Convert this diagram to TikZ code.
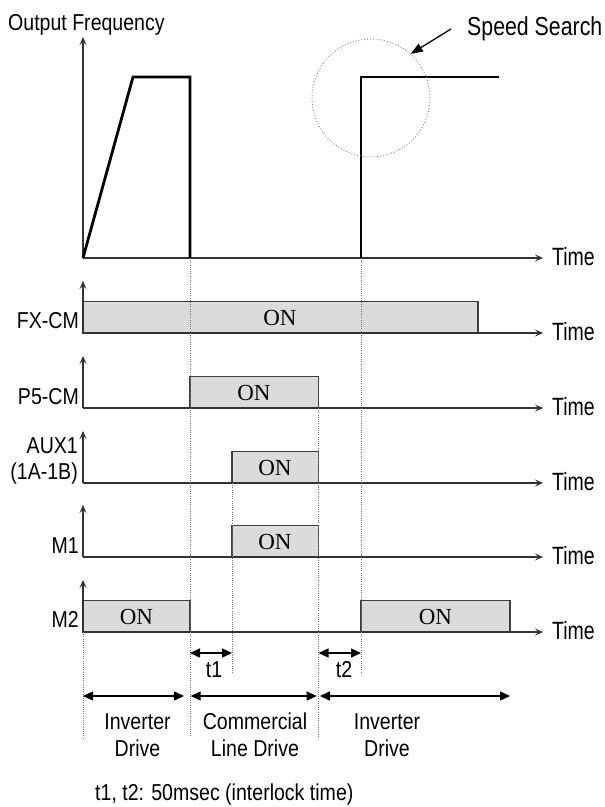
\documentclass[tikz,border=0pt]{standalone}
\usepackage{fontspec}
\setmainfont{Liberation Sans}[FakeStretch=0.85]
\newfontfamily\onfont{Liberation Serif}
\newfontfamily\tallfont{Liberation Sans}[FakeStretch=0.78]
\newfontfamily\ssfont{Liberation Sans}[FakeStretch=0.82]
\usetikzlibrary{arrows.meta}
\begin{document}
\begin{tikzpicture}[x=1pt,y=-1pt,
  lbl/.style={font=\fontsize{23}{26}\selectfont, inner sep=0pt},
  timelbl/.style={font=\tallfont\fontsize{25}{28}\selectfont, inner sep=0pt, anchor=base west},
  ontext/.style={font=\onfont\fontsize{23}{26}\selectfont, inner sep=0pt},
  axis/.style={line width=1.2pt, draw=black!80, -{Stealth[length=8pt,width=7pt,inset=3.5pt]}},
  bar/.style={fill=black!14, draw=black!75, line width=1.4pt},
  wave/.style={line width=2.8pt, line join=miter},
  guide/.style={draw=black!55, line width=0.9pt, dash pattern=on 1pt off 1.2pt},
  dim/.style={line width=1.4pt, {Triangle[length=10pt,width=9pt]}-{Triangle[length=10pt,width=9pt]}},
]
\useasboundingbox (0,0) rectangle (605,807);

% ---------- bars ----------
\draw[bar] (83,301.5) rectangle (478,333);   % FX-CM
\draw[bar] (190,376.5) rectangle (318.5,408); % P5-CM
\draw[bar] (232,451.5) rectangle (318.5,483); % AUX1
\draw[bar] (232,525.5) rectangle (318.5,557); % M1
\draw[bar] (83,600.5) rectangle (190,632);   % M2 a
\draw[bar] (361,600.5) rectangle (510,632);  % M2 b

\node[ontext] (onfx) at (280,317.5) {ON};
\node[ontext] (onp5) at (254,392.5) {ON};
\node[ontext] (onaux) at (275,467.5) {ON};
\node[ontext] (onm1) at (275,541.5) {ON};
\node[ontext] (onm2a) at (136.5,616.5) {ON};
\node[ontext] (onm2b) at (435.5,616.5) {ON};

% ---------- axes ----------
\coordinate (o) at (83,258);
\draw[axis] (o) -- (83,37);
\draw[axis] (o) -- (543,258);
\foreach \yy/\nm in {333/fx,408/p5,483/aux,557/mo,632/mt}{
  \coordinate (o\nm) at (83,\yy);
  \draw[axis] (o\nm) -- ++(0,-52);
  \draw[axis] (o\nm) -- (543,\yy);
  \node[timelbl] (time\nm) at (552,\yy+7) {Time};
}
\node[timelbl] (timef) at (552,265) {Time};

% ---------- frequency waveform ----------
\draw[wave] (o) -- (133,77) -- (190,77) -- (190,258);
\draw[wave] (361,258) -- (361,77) -- (499,77);

% ---------- guides ----------
\draw[guide] (190,258) -- (190,737);
\draw[guide] (361,258) -- (361,673);
\draw[guide] (232,483) -- (232,673);
\draw[guide] (318.5,408) -- (318.5,737);
\draw[guide] (83,632) -- (83,738);

% ---------- speed search ----------
\node[circle, draw=black!50, dotted, line width=0.9pt, minimum size=118pt, inner sep=0pt] (ssc) at (371,98) {};
\node[font=\ssfont\fontsize{26}{28}\selectfont, inner sep=0pt, anchor=base west] (ss) at (467,35) {Speed Search};
\coordinate (sstail) at (451,29);
\draw[line width=1.3pt, -{Triangle[length=12pt,width=9pt]}] (sstail) -- (ssc.48);

% ---------- labels ----------
\node[lbl, anchor=base west] (of) at (8,30) {Output Frequency};
\node[lbl, anchor=base east] (lfx) at (79,328) {FX-CM};
\node[lbl, anchor=base east] (lp5) at (79,404) {P5-CM};
\node[lbl, anchor=base east] (laux) at (78,453) {AUX1};
\node[lbl, anchor=base east] (laux2) at (78,479) {(1A-1B)};
\node[lbl, anchor=base east] (lm1) at (79,553) {M1};
\node[lbl, anchor=base east] (lm2) at (79,627) {M2};

% ---------- interlock times ----------
\coordinate (t1a) at (190,653); \coordinate (t1b) at (232,653);
\coordinate (t2a) at (318.5,653); \coordinate (t2b) at (361,653);
\draw[dim] (t1a) -- (t1b);
\draw[dim] (t2a) -- (t2b);
\node[lbl, anchor=base] (t1) at (214,677) {t1};
\node[lbl, anchor=base] (t2) at (344,677) {t2};

% ---------- drive periods ----------
\coordinate (d1a) at (83,696); \coordinate (d1b) at (184,696);
\coordinate (d2a) at (190.7,696); \coordinate (d2b) at (316.7,696);
\coordinate (d3a) at (320,696); \coordinate (d3b) at (510,696);
\draw[dim] (d1a) -- (d1b);
\draw[dim] (d2a) -- (d2b);
\draw[dim] (d3a) -- (d3b);
\node[lbl, anchor=base] (inv1) at (137.5,729) {Inverter};
\node[lbl, anchor=base] (drv1) at (137.5,756) {Drive};
\node[lbl, anchor=base] (com) at (255,729) {Commercial};
\node[lbl, anchor=base] (ldrv) at (255,756) {Line Drive};
\node[lbl, anchor=base] (inv2) at (387,729) {Inverter};
\node[lbl, anchor=base] (drv2) at (387,756) {Drive};

\node[lbl, anchor=base west] (note) at (95,800) {t1, t2: 50msec (interlock time)};
\end{tikzpicture}
\end{document}
